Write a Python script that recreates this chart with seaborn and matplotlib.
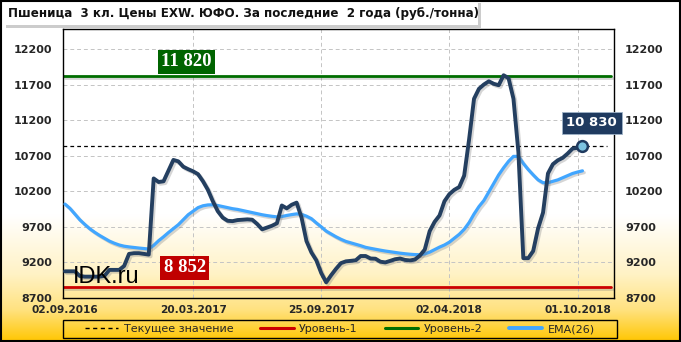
import numpy as np
import pandas as pd
import matplotlib
matplotlib.use("Agg")
import matplotlib.pyplot as plt
import matplotlib.patheffects as pe
from matplotlib.lines import Line2D
from matplotlib.patches import Rectangle
import seaborn as sns

# ---------------- data ----------------
title = "Пшеница  3 кл. Цены EXW. ЮФО. За последние  2 года (руб./тонна)"
tick_labels = ["02.09.2016", "20.03.2017", "25.09.2017", "02.04.2018", "01.10.2018"]
tick_weeks = [0, 26, 52, 78, 104]

price = [
    9075, 9075, 9075, 9010, 9000, 9000, 9000, 9000, 9010, 9095,
    9095, 9095, 9150, 9320, 9330, 9330, 9320, 9310, 10380, 10330,
    10340, 10490, 10640, 10620, 10545, 10510, 10480, 10440, 10340, 10220,
    10060, 9920, 9830, 9785, 9780, 9795, 9800, 9805, 9800, 9740,
    9665, 9690, 9715, 9750, 10000, 9960, 10010, 10040, 9830, 9500,
    9340, 9230, 9050, 8920, 9020, 9110, 9190, 9215, 9222, 9230,
    9290, 9290, 9255, 9252, 9210, 9200, 9222, 9245, 9255, 9235,
    9228, 9240, 9295, 9380, 9640, 9770, 9860, 10060, 10160, 10220,
    10260, 10420, 10930, 11500, 11640, 11700, 11745, 11710, 11690, 11830,
    11790, 11500, 10750, 9260, 9260, 9360, 9680, 9900, 10450, 10580,
    10635, 10670, 10730, 10800, 10810, 10830,
]
ema26 = [
    10020, 9960, 9880, 9800, 9735, 9675, 9625, 9580, 9540, 9500,
    9470, 9445, 9428, 9418, 9410, 9402, 9395, 9388, 9440, 9505,
    9560, 9620, 9675, 9730, 9800, 9870, 9920, 9970, 9996, 10008,
    10010, 10000, 9985, 9970, 9955, 9945, 9930, 9915, 9900, 9885,
    9870, 9858, 9848, 9840, 9845, 9860, 9872, 9882, 9875, 9850,
    9815, 9755, 9700, 9640, 9600, 9560, 9525, 9495, 9475, 9455,
    9435, 9412, 9398, 9385, 9372, 9360, 9350, 9340, 9330, 9322,
    9315, 9310, 9308, 9320, 9345, 9380, 9415, 9445, 9485, 9540,
    9595, 9665, 9760, 9880, 9985, 10070, 10190, 10310, 10430, 10530,
    10620, 10690, 10690, 10590, 10505, 10430, 10360, 10320, 10320, 10340,
    10360, 10390, 10420, 10450, 10470, 10487,
]
current_value = 10830
level1 = 8852
level2 = 11820
yticks = [8700, 9200, 9700, 10200, 10700, 11200, 11700, 12200]

df = pd.DataFrame({"week": np.arange(len(price)), "price": price, "ema": ema26})

# ---------------- figure ----------------
W, H = 681, 342
sns.set_style("white")
plt.rcParams["font.family"] = ["DejaVu Sans"]
fig = plt.figure(figsize=(W / 100, H / 100), dpi=100)

def fx(x):
    return x / W

def fy(y):
    return 1 - y / H

# background gradient
bg = fig.add_axes([0, 0, 1, 1], zorder=-10)
ys = np.linspace(0, H, 400)
stops_y = [0, 215, 275, 310, 342]
stops_c = np.array([[255, 255, 255], [255, 255, 255], [255, 242, 196], [255, 226, 128], [255, 198, 0]]) / 255
grad = np.stack([np.interp(ys, stops_y, stops_c[:, k]) for k in range(3)], axis=1)
bg.imshow(grad[:, None, :], aspect="auto", extent=[0, 1, 0, 1])
bg.set_axis_off()

ax = fig.add_axes([fx(63), fy(298), fx(614) - fx(63), fy(29) - fy(298)])
ax.set_facecolor("none")

shadow = [pe.SimpleLineShadow(offset=(1.3, -1.3), shadow_color="#777777", alpha=0.3), pe.Normal()]

# grid
for yv in yticks:
    ax.axhline(yv, color="#C4C4C4", lw=0.7, ls=(0, (4, 3)), zorder=0)
for xv in tick_weeks[1:]:
    ax.axvline(xv, color="#C4C4C4", lw=0.7, ls=(0, (4, 3)), zorder=0)

# level lines
ax.axhline(level2, xmax=0.995, color="#006E00", lw=2.0, zorder=2, path_effects=shadow)
ax.axhline(level1, xmax=0.995, color="#CC0000", lw=2.0, zorder=2, path_effects=shadow)
ax.axhline(current_value, xmax=0.987, color="black", lw=0.9, ls=(0, (3, 2.5)), zorder=2)

# series
sns.lineplot(data=df, x="week", y="ema", ax=ax, color="#41A6FF", lw=2.3, zorder=3)
sns.lineplot(data=df, x="week", y="price", ax=ax, color="#243F60", lw=2.8, zorder=4)
for ln in ax.get_lines()[-2:]:
    ln.set_path_effects(shadow)
    ln.set_solid_joinstyle("round")
    ln.set_solid_capstyle("round")

last = len(price) - 1
ax.scatter([df["week"].iloc[last]], [price[last]], s=60, color="#7CC3E0", edgecolor="#1F3A5F", linewidth=1.8, zorder=6)

ax.set_xlim(-0.4, 111.4)
ax.set_ylim(8700, 12480)
ax.set_xticks(tick_weeks)
ax.set_xticklabels(tick_labels)
ax.set_yticks(yticks)
ax.set_xlabel("")
ax.set_ylabel("")
ax.tick_params(axis="y", length=0, pad=8, labelsize=8, labelright=True, labelleft=True)
ax.tick_params(axis="x", length=0, pad=5, labelsize=7.6)
for lab in ax.get_xticklabels() + ax.get_yticklabels():
    lab.set_fontweight("bold")
for s in ax.spines.values():
    s.set_color("black")
    s.set_linewidth(1.0)
    s.set_visible(True)

# value labels
ax.text(24.7, 12017, "11 820", ha="center", va="center", color="white", fontsize=13.5, fontweight="bold",
        family="Liberation Serif", zorder=7,
        bbox=dict(boxstyle="square,pad=0.18", fc="#006400", ec="none"))
ax.text(24.3, 9125, "8 852", ha="center", va="center", color="white", fontsize=13.5, fontweight="bold",
        family="Liberation Serif", zorder=7,
        bbox=dict(boxstyle="square,pad=0.18", fc="#C00000", ec="none"))
ax.text(106.9, 11161, "10 830", ha="center", va="center", color="white", fontsize=9.5, fontweight="bold",
        zorder=7, clip_on=False,
        bbox=dict(boxstyle="square,pad=0.35", fc="#1F3A5F", ec="#9FB3C8", lw=0.6))
ax.text(1.6, 8915, "IDK.ru", ha="left", va="baseline", color="black", fontsize=17,
        family="Liberation Sans", zorder=5)

# title box with shadow
fig.patches.append(Rectangle((fx(6), fy(28)), fx(475), fy(3) - fy(28), transform=fig.transFigure,
                             fc="#9A9A9A", ec="none", alpha=0.5, zorder=1))
fig.patches.append(Rectangle((fx(3), fy(25)), fx(475), fy(2) - fy(25), transform=fig.transFigure,
                             fc="white", ec="none", zorder=2))
fig.text(fx(8), fy(13.5), title, ha="left", va="center", fontsize=8.6, fontweight="bold", color="#111111", zorder=3)

# legend box
fig.patches.append(Rectangle((fx(63), fy(338)), fx(554), fy(320) - fy(338), transform=fig.transFigure,
                             fc="none", ec="black", lw=1.0, zorder=2))
handles = [
    Line2D([], [], color="black", lw=1.0, ls=(0, (3, 2.5))),
    Line2D([], [], color="#CC0000", lw=2.2),
    Line2D([], [], color="#006E00", lw=2.2),
    Line2D([], [], color="#41A6FF", lw=2.8),
]
labels = ["Текущее значение", "Уровень-1", "Уровень-2", "EMA(26)"]
fig.legend(handles, labels, loc="center", bbox_to_anchor=(fx(340), fy(329)), ncol=4, frameon=False,
           fontsize=8, handlelength=3.0, handletextpad=0.5, columnspacing=2.4, borderpad=0)

# outer border
fig.patches.append(Rectangle((0.001, 0.002), 0.997, 0.996, transform=fig.transFigure, fc="none",
                             ec="black", lw=1.5, zorder=5))

fig.savefig("out.png", dpi=100)
